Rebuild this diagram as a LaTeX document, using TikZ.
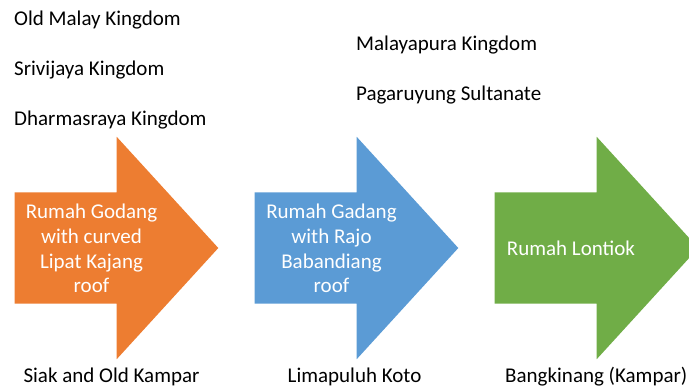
\documentclass[tikz,border=0pt]{standalone}
\usepackage{fontspec}
\setmainfont{Carlito}
\definecolor{ora}{HTML}{ED7D31}
\definecolor{blu}{HTML}{5B9BD5}
\definecolor{gre}{HTML}{70AD47}
\tikzset{
  bigarrow/.pic={\path[pic actions] (0,-55.6) -- (102,-55.6) -- (102,-111.2) -- (203.6,0) -- (102,111.2) -- (102,55.6) -- (0,55.6) -- cycle;},
  lbl/.style={anchor=base west, inner sep=0pt, font=\fontsize{21}{25}\selectfont},
  intext/.style={align=center, text=white, inner sep=0pt, font=\fontsize{21}{24.6}\selectfont},
}
\begin{document}
\begin{tikzpicture}[x=1pt,y=-1pt]
\useasboundingbox (0,0) rectangle (689,389);
\clip (0,0) rectangle (689,389);
\pic[fill=ora] at (14.7,248) {bigarrow};
\pic[fill=blu] at (254.7,248) {bigarrow};
\pic[fill=gre] at (494.7,248) {bigarrow};
\node[intext] (t1) at (91.5,248.5) {Rumah Godang\\with curved\\Lipat Kajang\\roof};
\node[intext] (t2) at (331.5,248.5) {Rumah Gadang\\with Rajo\\Babandiang\\roof};
\node[intext, anchor=base] (t3) at (571,255) {Rumah Lontiok};
\node[lbl] (k1) at (14,25) {Old Malay Kingdom};
\node[lbl] (k2) at (14,75) {Srivijaya Kingdom};
\node[lbl] (k3) at (14,125) {Dharmasraya Kingdom};
\node[lbl] (k4) at (356,50.7) {Malayapura Kingdom};
\node[lbl] (p5) at (356,100.5) {Pagaruyung Sultanate};
\node[lbl] (p1) at (23.3,382.3) {Siak and Old Kampar};
\node[lbl] (p2) at (287.5,382.3) {Limapuluh Koto};
\node[lbl, anchor=base east] (p3) at (687.5,382.3) {Bangkinang (Kampar)};
\end{tikzpicture}
\end{document}
